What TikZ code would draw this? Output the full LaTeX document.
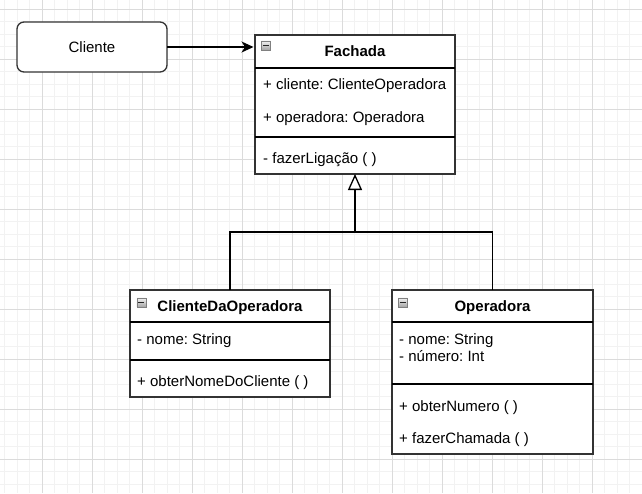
\documentclass[tikz,border=0pt]{standalone}
\usepackage{fontspec}
\setmainfont{Liberation Sans}
\usetikzlibrary{arrows.meta}
\frenchspacing
\begin{document}
\begin{tikzpicture}[x=1pt,y=-1pt,
  box/.style={draw=black!80, line width=1.3pt, fill=white, inner sep=0pt, outer sep=0pt},
  sepline/.style={draw=black, line width=1.1pt},
  txt/.style={anchor=base west, inner sep=0pt, font=\fontsize{15}{18}\selectfont},
  ttl/.style={anchor=base, inner sep=0pt, font=\fontsize{15}{18}\selectfont\bfseries},
  icon/.style={draw=black!50, line width=0.7pt, top color=black!5, bottom color=black!35, minimum size=9pt, inner sep=0pt, anchor=north west},
  minus/.style={draw=black!85, line width=1.2pt},
  link/.style={draw=black, line width=1.3pt},
  minorgrid/.style={draw=black!5, line width=0.8pt},
  majorgrid/.style={draw=black!14, line width=0.8pt}]
\useasboundingbox (0,0) rectangle (642,493);
\fill[white] (0,0) rectangle (642,493);
% grid
\foreach \i in {0,...,51} {\draw[minorgrid] ({4.8+12.5*\i},0) -- ({4.8+12.5*\i},493);}
\foreach \i in {0,...,39} {\draw[minorgrid] (0,{9.3+12.5*\i}) -- (642,{9.3+12.5*\i});}
\foreach \i in {0,...,12} {\draw[majorgrid] ({42.3+50*\i},0) -- ({42.3+50*\i},493);}
\foreach \i in {0,...,9} {\draw[majorgrid] (0,{9.3+50*\i}) -- (642,{9.3+50*\i});}

% Cliente
\node[box, rounded corners=7pt, minimum width=150pt, minimum height=50pt,
      font=\fontsize{15}{18}\selectfont] (cli) at (92,47) {Cliente};

% Fachada
\node[box, minimum width=200pt, minimum height=139pt] (fach) at (355,104.5) {};
\draw[sepline] (fach.west |- 0,68) -- (fach.east |- 0,68);
\draw[sepline] (fach.west |- 0,137) -- (fach.east |- 0,137);
\node[icon] (ic1) at (261,40.5) {};
\draw[minus] ([xshift=1.8pt]ic1.west) -- ([xshift=-1.8pt]ic1.east);
\node[ttl] (fachT) at (355,56.7) {Fachada};
\node[txt] (fachA1) at (263,89) {+ cliente: ClienteOperadora};
\node[txt] (fachA2) at (263,122) {+ operadora: Operadora};
\node[txt] (fachM1) at (263,163) {- fazerLigação ( )};

% ClienteDaOperadora
\node[box, minimum width=200pt, minimum height=107pt] (cdo) at (230,343.5) {};
\draw[sepline] (cdo.west |- 0,322) -- (cdo.east |- 0,322);
\draw[sepline] (cdo.west |- 0,360) -- (cdo.east |- 0,360);
\node[icon] (ic2) at (136.5,297.5) {};
\draw[minus] ([xshift=1.8pt]ic2.west) -- ([xshift=-1.8pt]ic2.east);
\node[ttl] (cdoT) at (230,311.7) {ClienteDaOperadora};
\node[txt] (cdoA1) at (137,344) {- nome: String};
\node[txt] (cdoM1) at (137,386.7) {+ obterNomeDoCliente ( )};

% Operadora
\node[box, minimum width=201pt, minimum height=164pt] (ope) at (492.5,372) {};
\draw[sepline] (ope.west |- 0,322) -- (ope.east |- 0,322);
\draw[sepline] (ope.west |- 0,384) -- (ope.east |- 0,384);
\node[icon] (ic3) at (398,297.5) {};
\draw[minus] ([xshift=1.8pt]ic3.west) -- ([xshift=-1.8pt]ic3.east);
\node[ttl] (opeT) at (492.5,311.7) {Operadora};
\node[txt] (opeA1) at (399,344.3) {- nome: String};
\node[txt] (opeA2) at (399,361.7) {- número: Int};
\node[txt] (opeM1) at (399,411.7) {+ obterNumero ( )};
\node[txt] (opeM2) at (399,443.7) {+ fazerChamada ( )};

% connectors
\draw[link, -{Stealth[length=12pt, width=11pt, inset=3.5pt]}, shorten >=1.5pt]
  (cli.east) -- (fach.west |- cli.east);
\coordinate (j) at (355,232);
\draw[link] (cdo.north) |- (j);
\draw[link] (ope.north) |- (j);
\draw[link, -{Triangle[length=16pt, width=14pt, fill=white, line width=1.3pt]}] (j) -- (fach.south);
\end{tikzpicture}
\end{document}
